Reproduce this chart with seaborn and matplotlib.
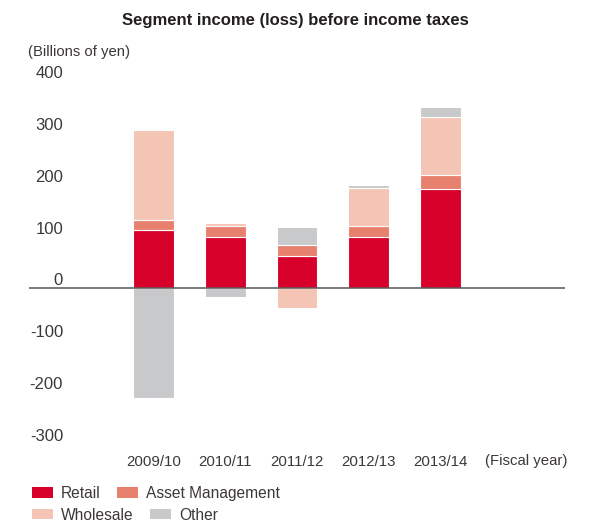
import matplotlib
matplotlib.use("Agg")
import matplotlib.pyplot as plt
import matplotlib.patches as mpatches
import numpy as np
import seaborn as sns

# Fiscal years and segment income (loss) before income taxes, billions of yen
years = ["2009/10", "2010/11", "2011/12", "2012/13", "2013/14"]
retail = [112, 100, 62, 100, 191]
asset_management = [19, 21, 21, 21, 27]
wholesale = [175, 6, -38, 72, 112]
other = [-211, -17, 35, 6, 19]

segment_names = ["Retail", "Asset Management", "Wholesale", "Other"]
segment_values = [retail, asset_management, wholesale, other]
segment_colors = ["#D7002A", "#E8806E", "#F4C4B4", "#C8C9CB"]

y_ticks = [-300, -200, -100, 0, 100, 200, 300, 400]

sns.set_theme(style="white")
plt.rcParams["font.family"] = ["Liberation Sans", "DejaVu Sans"]
text_color = "#3d3838"

fig = plt.figure(figsize=(5.91, 5.29), dpi=100)
ax = fig.add_axes([29 / 591, 1 - 444 / 529, (565 - 29) / 591, (444 - 81) / 529])

# Stack positives upward and negatives downward, segment by segment
pos_base = np.zeros(len(years))
neg_base = np.zeros(len(years))
for name, vals, col in zip(segment_names, segment_values, segment_colors):
    vals = np.asarray(vals, dtype=float)
    bottoms = np.where(vals >= 0, pos_base, neg_base)
    sns.barplot(x=years, y=vals, bottom=bottoms, color=col, width=0.568,
                edgecolor="white", linewidth=0.8, errorbar=None,
                saturation=1, ax=ax)
    pos_base = pos_base + np.clip(vals, 0, None)
    neg_base = neg_base + np.clip(vals, None, 0)

ax.axhline(0, color="#5a5555", lw=1.1, zorder=5)

ax.set_ylim(-300, 400)
ax.set_xlim(-1.74, 5.74)
ax.set_yticks(y_ticks)
ax.set_yticklabels([str(t) for t in y_ticks])
for lab in ax.get_yticklabels():
    lab.set_va("bottom")
ax.tick_params(axis="y", length=0, pad=-24.5, labelsize=12, labelcolor=text_color)
ax.tick_params(axis="x", length=0, pad=7.8, labelsize=10.8, labelcolor=text_color)
ax.set_xlabel("")
ax.set_ylabel("")
for s in ax.spines.values():
    s.set_visible(False)
ax.grid(False)

# Unit note for the category axis, level with the year labels
ax.text(1.005, -(461 - 444) / 363, "(Fiscal year)", transform=ax.transAxes,
        ha="right", va="center", fontsize=10.8, color=text_color)

fig.text(0.5, 1 - 20 / 529, "Segment income (loss) before income taxes",
         ha="center", va="center", fontsize=12, fontweight="bold", color="#231f1f")
fig.text(28 / 591, 1 - 51.7 / 529, "(Billions of yen)", ha="left", va="center",
         fontsize=10.7, color=text_color)

handles = [mpatches.Patch(facecolor=c, edgecolor="none") for c in segment_colors]
rows = [(handles[:2], segment_names[:2], 493.3), (handles[2:], segment_names[2:], 515)]
for hs, labs, yc in rows:
    leg = fig.legend(hs, labs, loc="center left", bbox_to_anchor=(31.7 / 591, 1 - yc / 529),
                     ncol=2, frameon=False, fontsize=11.2, borderpad=0, borderaxespad=0,
                     handlelength=1.35, handleheight=0.65, handletextpad=0.52,
                     columnspacing=1.08)
    for t in leg.get_texts():
        t.set_color(text_color)

fig.savefig("out.png", dpi=100)
